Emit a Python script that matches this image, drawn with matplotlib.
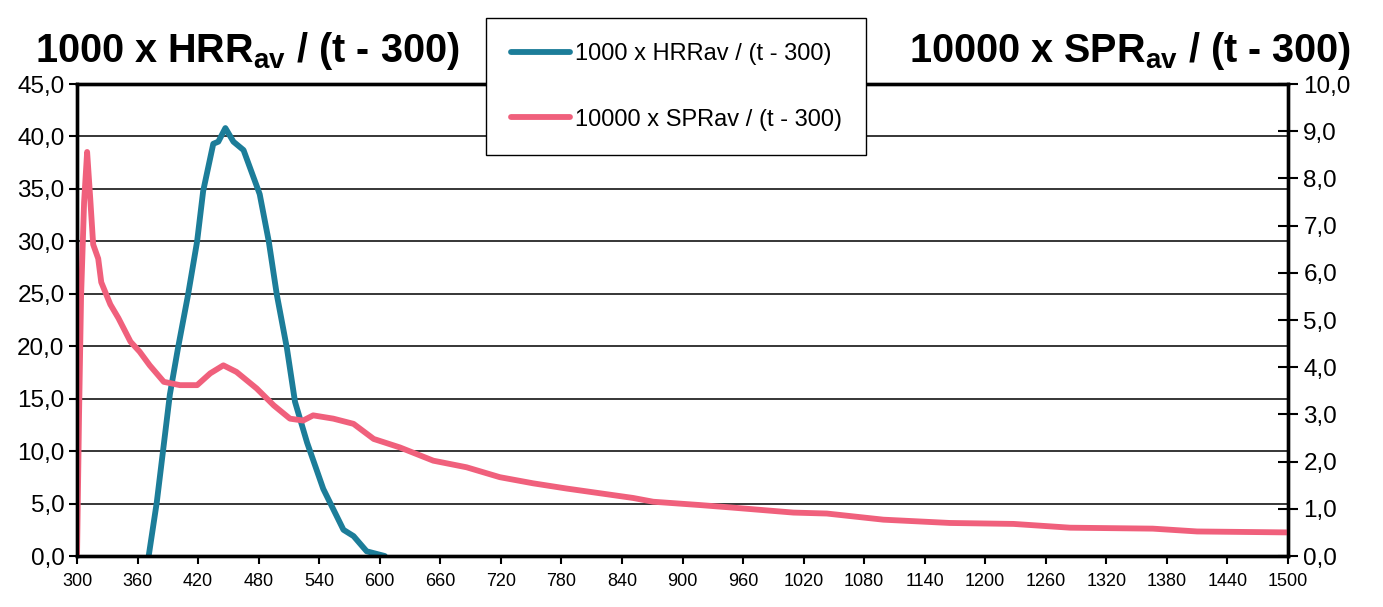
import matplotlib
matplotlib.use("Agg")
import matplotlib.pyplot as plt
from matplotlib.ticker import FuncFormatter, MultipleLocator

plt.rcParams['font.family'] = ['Liberation Sans', 'DejaVu Sans']
plt.rcParams['mathtext.fontset'] = 'custom'
plt.rcParams['mathtext.rm'] = 'Liberation Sans:bold'
plt.rcParams['mathtext.it'] = 'Liberation Sans:bold'
plt.rcParams['mathtext.bf'] = 'Liberation Sans:bold'

# 1000 x HRRav / (t - 300), left axis
hrr_t = [371, 379, 392, 400, 410, 419, 425, 435, 440, 447, 455, 465, 481,
         490, 498, 508, 516, 528, 544, 564, 574, 587, 605]
hrr_v = [0, 5.1, 15.4, 19.8, 24.9, 30.0, 34.8, 39.3, 39.5, 40.8, 39.5, 38.7,
         34.5, 30.0, 24.9, 19.8, 14.7, 10.8, 6.4, 2.5, 1.9, 0.45, 0]

# 10000 x SPRav / (t - 300), right axis
spr_t = [300, 302, 304, 307, 310, 313, 316, 321, 324, 333, 341, 353, 362, 372,
         386, 402, 419, 432, 445, 458, 478, 495, 511, 524, 534, 554, 574, 594,
         620, 653, 686, 719, 752, 785, 818, 851, 871, 917, 947, 1010, 1043,
         1099, 1165, 1228, 1284, 1366, 1410, 1500]
spr_v = [0, 3.0, 5.5, 7.5, 8.56, 7.6, 6.6, 6.3, 5.8, 5.33, 5.04, 4.54, 4.33,
         4.04, 3.69, 3.62, 3.62, 3.87, 4.04, 3.90, 3.55, 3.19, 2.91, 2.87, 2.98,
         2.91, 2.80, 2.48, 2.30, 2.02, 1.88, 1.67, 1.54, 1.43, 1.33, 1.23, 1.15,
         1.08, 1.03, 0.92, 0.90, 0.77, 0.70, 0.68, 0.60, 0.58, 0.52, 0.50]

x_ticks = list(range(300, 1501, 60))

blue = '#1c7d99'
pink = '#f0607c'

fig = plt.figure(figsize=(13.83, 6.07), dpi=100)
ax = fig.add_axes([0.0557, 0.084, 0.8756, 0.7776])
ax2 = ax.twinx()

ax.plot(hrr_t, hrr_v, color=blue, lw=4.2, solid_capstyle='round',
        solid_joinstyle='round', label='1000 x HRRav / (t - 300)')
ax2.plot(spr_t, spr_v, color=pink, lw=4.2, solid_capstyle='round',
         solid_joinstyle='round', label='10000 x SPRav / (t - 300)')

ax.set_xlim(300, 1500)
ax.set_ylim(0, 45)
ax2.set_ylim(0, 10)
ax.set_xticks(x_ticks)
ax.yaxis.set_major_locator(MultipleLocator(5))
ax2.yaxis.set_major_locator(MultipleLocator(1))

fmt = FuncFormatter(lambda v, p: f"{v:.1f}".replace('.', ','))
ax.yaxis.set_major_formatter(fmt)
ax2.yaxis.set_major_formatter(fmt)

ax.grid(axis='y', color='black', lw=1.1)
ax.set_axisbelow(True)

for a in (ax, ax2):
    for s in a.spines.values():
        s.set_linewidth(2.4)
        s.set_color('black')

ax.tick_params(axis='x', direction='out', length=6, width=1.5, labelsize=13, pad=6)
ax.tick_params(axis='y', direction='out', length=6, width=1.5, labelsize=17.5, pad=3)
ax2.tick_params(axis='y', direction='inout', length=14, width=1.5, labelsize=17.5, pad=4)

fig.text(0.025, 0.898, r"1000 x HRR$_{av}$ / (t - 300)", fontsize=28.5,
         fontweight='bold', ha='left', va='baseline')
fig.text(0.977, 0.898, r"10000 x SPR$_{av}$ / (t - 300)", fontsize=28.5,
         fontweight='bold', ha='right', va='baseline')

h1, l1 = ax.get_legend_handles_labels()
h2, l2 = ax2.get_legend_handles_labels()
leg = fig.legend(h1 + h2, l1 + l2, loc='upper left',
                 bbox_to_anchor=(0.3514, 0.9703), borderaxespad=0,
                 fontsize=17, handlelength=2.5, handletextpad=0.2,
                 labelspacing=1.85, borderpad=1.05, fancybox=False,
                 framealpha=1, edgecolor='black')
leg.get_frame().set_linewidth(1.0)

fig.savefig('out.png', dpi=100)
